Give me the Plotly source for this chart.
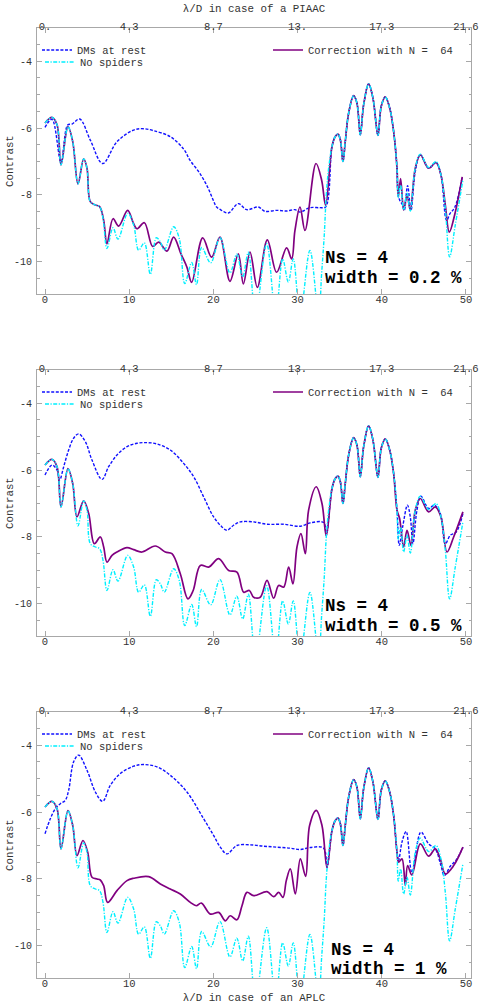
import plotly.graph_objects as go

# ---------------- data (lambda/D for APLC, log10 contrast) ----------------
# "No spiders" curve (identical in the three panels)
ns_head_x = [0, 0.83, 1.43, 1.90, 2.73, 3.29, 3.92, 4.59, 4.99, 5.38, 5.98, 6.49, 6.89, 7.36, 8.08, 8.67,
             9.82, 10.53, 11.12, 11.80, 12.51, 13.22, 13.70, 14.17, 15.28, 15.95, 16.60, 17.42, 18.00, 18.61,
             19.68, 20.78, 21.97, 22.78, 23.48, 24.15, 25.00, 26.33, 27.40, 28.23, 28.90, 29.49, 30.30, 31.47,
             32.50, 32.86, 33.17, 33.41, 33.69]
ns_head_y = [-5.85, -5.68, -5.90, -7.10, -5.96, -6.40, -7.67, -6.92, -7.20, -8.20, -8.30, -8.35, -8.70, -9.60,
             -8.98, -9.32, -8.55, -8.90, -9.65, -9.43, -10.37, -9.28, -9.40, -9.65, -8.95, -9.30, -10.65, -10.02,
             -10.68, -9.57, -10.03, -9.27, -10.33, -9.77, -10.45, -9.71, -11.6, -9.46, -11.6, -9.91, -10.60, -9.91,
             -11.6, -9.66, -11.6, -10.34, -9.20, -8.00, -7.20]
ns_tail_x = [41.96, 42.24, 42.60, 43.00, 43.39, 43.98, 44.58, 45.57, 46.44, 47.03, 47.55, 48.06, 48.73, 49.64]
ns_tail_y = [-8.06, -7.70, -8.45, -7.95, -8.48, -7.20, -6.78, -7.18, -7.00, -7.40, -8.40, -9.85, -8.90, -7.55]

# stretch shared by every curve (beyond the dark hole)
common_x = [34.09, 34.48, 34.80, 35.08, 35.39, 35.67, 36.07, 36.66, 37.05, 37.45, 37.85, 38.44, 38.95,
            39.55, 39.94, 40.42, 40.94, 41.41, 41.81]
common_y = [-6.55, -6.25, -6.18, -6.35, -7.00, -6.40, -5.55, -5.03, -5.25, -6.20, -5.30, -4.68, -5.10,
            -6.22, -5.35, -5.07, -5.40, -6.10, -7.20]

# Panel 1 : width = 0.2 %
dm1_x = [0.00, 0.83, 1.90, 2.69, 3.21, 4.12, 5.38, 6.85, 8.55, 10.53, 11.72, 12.91, 14.89, 16.50, 17.22, 18.41,
         19.40, 19.99, 20.39, 20.98, 21.77, 22.96, 23.95, 25.34, 26.13, 27.51, 28.70, 29.69, 30.29, 31.47,
         32.66, 33.33]
dm1_y = [-5.98, -5.74, -7.01, -5.91, -5.88, -5.73, -6.36, -7.06, -6.41, -6.06, -6.02, -6.08, -6.26, -6.64,
         -6.96, -7.36, -7.81, -8.16, -8.36, -8.46, -8.54, -8.26, -8.44, -8.36, -8.49, -8.46, -8.48, -8.44,
         -8.51, -8.38, -8.38, -8.36]
dm1_tail_x = [41.90, 42.12, 42.48, 42.68, 43.07, 43.47, 43.98, 44.58, 45.57, 46.44, 47.03, 47.70, 48.10, 48.69, 49.56]
dm1_tail_y = [-7.90, -8.15, -8.30, -8.46, -7.72, -8.46, -7.30, -6.80, -7.20, -7.03, -7.40, -8.76, -8.56, -8.36, -7.46]
corr1_x = [6.97, 7.36, 8.08, 8.75, 9.82, 10.53, 10.93, 11.80, 12.79, 13.50, 14.49, 15.28, 16.15, 16.86, 17.42,
           18.73, 19.79, 20.78, 21.97, 22.96, 23.56, 24.35, 25.22, 26.41, 27.51, 28.70, 29.30, 29.69, 30.29,
           30.88, 32.19, 32.86, 33.33]
corr1_y = [-8.76, -9.46, -8.71, -8.93, -8.46, -8.86, -9.01, -8.83, -9.54, -9.41, -9.68, -9.26, -9.76, -10.16,
           -10.61, -9.28, -9.86, -9.26, -10.58, -9.76, -10.66, -9.71, -10.76, -9.34, -10.31, -9.58, -9.91, -9.06,
           -8.36, -9.06, -7.06, -7.56, -8.31]
corr1_tail_x = [41.96, 42.24, 42.60, 43.00, 43.39, 43.98, 44.58, 45.57, 46.44, 47.03, 47.55, 48.02, 48.69, 49.56]
corr1_tail_y = [-8.06, -7.51, -8.45, -8.00, -8.45, -7.20, -6.80, -7.20, -7.03, -7.40, -8.30, -9.11, -8.56, -7.46]

# Panel 2 : width = 0.5 %
dm2_x = [0.00, 0.83, 1.43, 1.74, 2.22, 2.81, 3.40, 4.00, 4.79, 5.58, 6.77, 7.56, 8.55, 9.74, 10.93, 12.11,
         13.30, 14.88, 16.47, 17.66, 18.84, 20.03, 21.02, 21.61, 22.40, 23.20, 24.78, 26.37, 28.35, 30.33,
         31.51, 33.10, 33.41]
dm2_y = [-6.15, -5.85, -6.00, -6.30, -5.90, -5.40, -5.05, -4.92, -5.15, -5.70, -6.28, -5.90, -5.55, -5.30,
         -5.20, -5.18, -5.22, -5.40, -5.80, -6.20, -6.80, -7.40, -7.70, -7.80, -7.65, -7.55, -7.55, -7.62,
         -7.62, -7.68, -7.58, -7.57, -7.95]
dm2_tail_x = [42.08, 42.48, 43.05, 43.39, 43.70, 44.18, 44.65, 45.57, 46.24, 46.95, 47.55, 48.14, 48.85, 49.64]
dm2_tail_y = [-8.25, -7.70, -7.05, -7.40, -8.20, -7.20, -6.78, -7.15, -7.05, -7.30, -8.20, -7.95, -7.85, -7.30]
corr2_x = [3.80, 4.59, 5.19, 5.86, 6.57, 6.97, 7.36, 7.96, 8.55, 9.74, 10.53, 11.52, 13.10, 14.29, 15.08,
           16.07, 16.98, 17.60, 18.45, 19.44, 20.63, 21.81, 22.80, 23.60, 24.27, 24.78, 25.57, 26.37, 27.16,
           27.75, 28.35, 28.94, 29.45, 29.93, 30.40, 30.92, 31.31, 32.22, 32.90, 33.41]
corr2_y = [-7.40, -6.92, -7.30, -8.20, -8.00, -8.30, -8.75, -8.55, -8.45, -8.32, -8.38, -8.45, -8.27, -8.45,
           -8.50, -9.10, -9.85, -9.60, -8.85, -8.90, -8.65, -9.00, -9.05, -9.65, -9.60, -9.80, -9.80, -9.30,
           -9.83, -9.45, -9.50, -8.90, -9.40, -8.30, -7.90, -8.50, -7.20, -6.50, -7.00, -7.97]
corr2_tail_x = [42.12, 42.60, 43.00, 43.47, 43.98, 44.58, 45.57, 46.36, 47.03, 47.75, 48.54, 49.64]
corr2_tail_y = [-7.45, -8.30, -7.80, -8.25, -7.20, -6.85, -7.25, -7.10, -7.40, -8.45, -8.00, -7.25]

# Panel 3 : width = 1 %
dm3_x = [0.00, 0.63, 1.23, 1.82, 2.41, 2.81, 3.40, 4.00, 4.99, 5.98, 6.85, 7.76, 8.95, 10.53, 11.72, 13.30,
         14.88, 16.86, 18.84, 20.03, 20.82, 21.61, 22.80, 24.39, 25.97, 27.55, 29.14, 30.33, 31.51, 33.10, 33.49]
dm3_y = [-6.65, -6.20, -5.90, -5.75, -5.65, -5.35, -4.50, -4.30, -4.75, -5.40, -5.68, -5.20, -4.85, -4.63,
         -4.58, -4.65, -4.90, -5.40, -6.20, -6.70, -7.05, -7.25, -7.00, -6.98, -7.02, -7.05, -7.08, -7.12,
         -7.06, -7.08, -7.65]
dm3_tail_x = [42.00, 42.40, 42.90, 43.58, 44.65, 45.57, 46.36, 47.03, 47.43, 48.14, 48.93, 49.64]
dm3_tail_y = [-7.45, -6.90, -6.58, -7.80, -6.60, -6.95, -7.10, -7.60, -7.90, -7.62, -7.40, -7.05]
corr3_x = [3.80, 4.51, 5.07, 5.58, 6.18, 6.57, 6.97, 7.44, 8.55, 9.74, 10.53, 12.31, 13.70, 14.88, 16.07,
           17.26, 17.97, 18.57, 19.64, 20.63, 21.42, 22.00, 22.80, 23.40, 23.99, 24.78, 26.37, 27.16, 27.75,
           28.27, 28.66, 29.14, 29.73, 30.33, 30.96, 31.43, 32.22, 32.90, 33.49]
corr3_y = [-7.30, -6.85, -7.20, -7.95, -8.00, -8.03, -8.20, -8.70, -8.35, -8.05, -7.98, -7.93, -8.15, -8.30,
           -8.45, -8.70, -8.80, -8.72, -9.05, -9.00, -9.25, -9.10, -9.22, -8.80, -8.40, -8.50, -8.38, -8.53,
           -8.40, -8.55, -8.05, -7.70, -8.45, -7.40, -7.92, -6.40, -5.95, -6.40, -7.65]
corr3_tail_x = [42.00, 42.40, 42.80, 43.07, 43.58, 44.58, 45.57, 46.36, 46.95, 47.55, 48.54, 49.64]
corr3_tail_y = [-7.50, -7.40, -8.20, -7.60, -7.88, -6.95, -7.32, -7.10, -7.40, -7.85, -7.60, -7.05]

widths = ["0.2", "0.5", "1"]
top_tick_vals = [0, 10, 20, 30, 40, 50]
top_tick_text = ["0.", "4.3", "8.7", "13.", "17.3", "21.6"]
y_tick_vals = [-10, -8, -6, -4]
y_tick_text = ["-10", "-8", "-6", "-4"]

# ---------------- build series ----------------
ns_x = ns_head_x + common_x + ns_tail_x
ns_y = ns_head_y + common_y + ns_tail_y
panels = [
    (dm1_x + common_x + dm1_tail_x, dm1_y + common_y + dm1_tail_y,
     ns_head_x[:12] + corr1_x + common_x + corr1_tail_x, ns_head_y[:12] + corr1_y + common_y + corr1_tail_y),
    (dm2_x + common_x + dm2_tail_x, dm2_y + common_y + dm2_tail_y,
     ns_head_x[:6] + corr2_x + common_x + corr2_tail_x, ns_head_y[:6] + corr2_y + common_y + corr2_tail_y),
    (dm3_x + common_x + dm3_tail_x, dm3_y + common_y + dm3_tail_y,
     ns_head_x[:6] + corr3_x + common_x + corr3_tail_x, ns_head_y[:6] + corr3_y + common_y + corr3_tail_y),
]

FONT = "Liberation Mono"
BLUE = "#1010ff"
CYAN = "#00f0ff"
PURPLE = "#800080"
FRAME = "#a8a8a8"
TXT = "#333333"

fig = go.Figure()

# pixel geometry of the page
H = 1006
mt, mb = 28, 28
plot_h = H - mt - mb
box_tops = [28, 370, 712]
box_h = 266


def py(sy):
    return (H - mb - sy) / plot_h


def px(sx):
    return (sx - 37) / 434.0


for i, (dmx, dmy, cx, cy) in enumerate(panels):
    xa = "x" if i == 0 else f"x{i + 1}"
    ya = "y" if i == 0 else f"y{i + 1}"
    lg_a = "legend" if i == 0 else f"legend{3 * i + 1}"
    lg_b = f"legend{3 * i + 2}"
    lg_c = f"legend{3 * i + 3}"
    fig.add_trace(go.Scatter(x=dmx, y=dmy, mode="lines", name="DMs at rest", xaxis=xa, yaxis=ya,
                             legend=lg_a,
                             line=dict(color=BLUE, width=1.4, dash="3px,1.6px", shape="spline", smoothing=1)))
    fig.add_trace(go.Scatter(x=cx, y=cy, mode="lines", name="Correction with N =  64", xaxis=xa, yaxis=ya,
                             legend=lg_c,
                             line=dict(color=PURPLE, width=1.7, shape="spline", smoothing=1)))
    fig.add_trace(go.Scatter(x=ns_x, y=ns_y, mode="lines", name="No spiders", xaxis=xa, yaxis=ya,
                             legend=lg_b,
                             line=dict(color=CYAN, width=1.4, dash="4px,1.5px,1.2px,1.5px", shape="spline",
                                       smoothing=1)))
    # empty trace to carry the top (PIAAC) axis
    fig.add_trace(go.Scatter(x=[], y=[], xaxis=f"x{i + 4}", yaxis=ya, showlegend=False, hoverinfo="skip"))

    top = box_tops[i]
    base_leg = dict(bgcolor="rgba(0,0,0,0)", borderwidth=0, font=dict(family=FONT, size=10.5, color=TXT),
                    itemwidth=30, xanchor="left", yanchor="middle", tracegroupgap=0)
    fig.update_layout({
        lg_a: dict(base_leg, x=px(37), y=py(top + 22)),
        lg_b: dict(base_leg, x=px(40), y=py(top + 34)),
        lg_c: dict(base_leg, x=px(268), y=py(top + 22)),
    })

    d1 = py(top)
    d0 = py(top + box_h)
    yaxis = dict(domain=[d0, d1], range=[-10.96, -3.01], tickvals=y_tick_vals, ticktext=y_tick_text,
                 ticks="inside", ticklen=5, tickcolor=FRAME, showline=True, linecolor=FRAME, linewidth=1,
                 mirror="ticks", showgrid=False, zeroline=False, automargin=False,
                 minor=dict(dtick=0.5, tick0=0, ticks="inside", ticklen=2.5, tickcolor=FRAME, showgrid=False),
                 tickfont=dict(family=FONT, size=10, color=TXT), ticklabelstandoff=2,
                 anchor=xa)
    xaxis = dict(domain=[0, 1], range=[-0.95, 50.6], tickvals=top_tick_vals, ticks="inside", ticklen=5,
                 tickcolor=FRAME, showline=True, linecolor=FRAME, linewidth=1, mirror=True, showgrid=False,
                 zeroline=False, automargin=False, tickfont=dict(family=FONT, size=10.5, color=TXT),
                 ticklabelstandoff=-5, anchor=ya)
    if i == 2:
        xaxis["title"] = dict(text="λ/D in case of an APLC", font=dict(family=FONT, size=10.8, color=TXT),
                              standoff=4)
    xtop = dict(overlaying=xa, anchor=ya, side="top", range=[-0.95, 50.6], tickvals=top_tick_vals,
                ticktext=top_tick_text, ticks="inside", ticklen=5, tickcolor=FRAME, showline=False,
                showgrid=False, zeroline=False, automargin=False,
                tickfont=dict(family=FONT, size=10.5, color=TXT), ticklabelstandoff=-5)
    if i == 0:
        xtop["title"] = dict(text="λ/D in case of a PIAAC", font=dict(family=FONT, size=10.8, color=TXT),
                             standoff=6)
    fig.update_layout({
        ("yaxis" if i == 0 else f"yaxis{i + 1}"): yaxis,
        ("xaxis" if i == 0 else f"xaxis{i + 1}"): xaxis,
        f"xaxis{i + 4}": xtop,
    })
    # y-axis title of this panel
    fig.add_annotation(x=px(10), y=(d0 + d1) / 2, xref="paper", yref="paper", text="Contrast",
                       textangle=-90, showarrow=False, xanchor="center", yanchor="middle",
                       font=dict(family=FONT, size=10.8, color=TXT))

# Ns / width labels
label_pos = [(33.0, -9.89, -10.49), (33.0, -10.05, -10.65), (33.7, -10.12, -10.70)]
for i, (lx, ly1, ly2) in enumerate(label_pos):
    xr = "x" if i == 0 else f"x{i + 1}"
    yr = "y" if i == 0 else f"y{i + 1}"
    for txt, yy in ((f"<b>Ns = 4</b>", ly1), (f"<b>width = {widths[i]} %</b>", ly2)):
        fig.add_annotation(x=lx, y=yy, xref=xr, yref=yr, text=txt, showarrow=False, xanchor="left",
                           yanchor="middle", font=dict(family=FONT, size=17.5, color="black"))

fig.update_layout(width=485, height=1006, margin=dict(l=37, r=14, t=mt, b=mb, autoexpand=False),
                  paper_bgcolor="white", plot_bgcolor="white", showlegend=True)

fig.write_html("out.html", config={"displayModeBar": False},
               post_script="document.body.style.margin='0';document.body.style.padding='0';")
